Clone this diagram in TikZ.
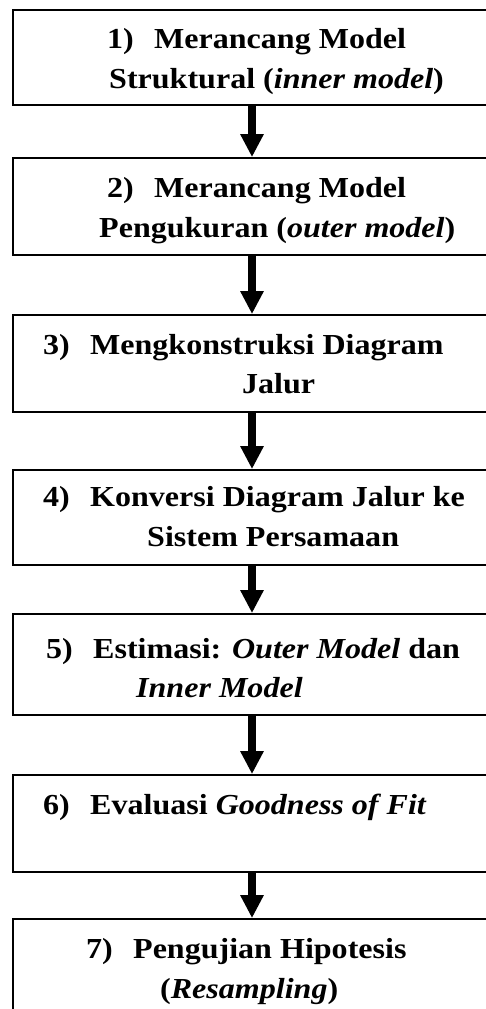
\documentclass[tikz,border=0pt]{standalone}
\usepackage{fontspec}
\setmainfont{Liberation Serif}[FakeStretch=1.105]
\usetikzlibrary{arrows.meta}
\newcommand{\itemno}[1]{\makebox[47pt][l]{#1}}
\begin{document}
\begin{tikzpicture}[x=1pt,y=-1pt,
  box/.style={draw=black, line width=1.8pt, minimum width=478pt, inner sep=0pt},
  flow/.style={line width=8pt, -{Triangle[width=22pt,length=23pt]}},
  txt/.style={anchor=base west, inner sep=0pt, font=\fontsize{29}{35}\selectfont\bfseries}]
\clip (0,0) rectangle (486,1009);
\fill[white] (0,0) rectangle (486,1009);
\node[box, minimum height=95pt] (b1) at (252,57.5) {};
\node[box, minimum height=97pt] (b2) at (252,206.5) {};
\node[box, minimum height=97pt] (b3) at (252,363.5) {};
\node[box, minimum height=95pt] (b4) at (252,517.5) {};
\node[box, minimum height=101pt] (b5) at (252,664.5) {};
\node[box, minimum height=97pt] (b6) at (252,823.5) {};
\node[box, minimum height=111pt] (b7) at (252,974.5) {};
\draw[flow] (b1.south) -- (b2.north);
\draw[flow] (b2.south) -- (b3.north);
\draw[flow] (b3.south) -- (b4.north);
\draw[flow] (b4.south) -- (b5.north);
\draw[flow] (b5.south) -- (b6.north);
\draw[flow] (b6.south) -- (b7.north);
\node[txt] (t1a) at (107,48) {\itemno{1)}Merancang Model};
\node[txt] (t1b) at (109,88) {Struktural (\textit{inner model})};
\node[txt] (t2a) at (107,197) {\itemno{2)}Merancang Model};
\node[txt] (t2b) at (99,237) {Pengukuran (\textit{outer model})};
\node[txt] (t3a) at (43,354) {\itemno{3)}Mengkonstruksi Diagram};
\node[txt] (t3b) at (242,393) {Jalur};
\node[txt] (t4a) at (43,506) {\itemno{4)}Konversi Diagram Jalur ke};
\node[txt] (t4b) at (147,546) {Sistem Persamaan};
\node[txt] (t5a) at (46,658) {\itemno{5)}Estimasi: \textit{Outer Model} dan};
\node[txt] (t5b) at (136,697) {\textit{Inner Model}};
\node[txt] (t6a) at (43,814) {\itemno{6)}Evaluasi \textit{Goodness of Fit}};
\node[txt] (t7a) at (86,958) {\itemno{7)}Pengujian Hipotesis};
\node[txt] (t7b) at (160,998) {(\textit{Resampling})};
\end{tikzpicture}
\end{document}
